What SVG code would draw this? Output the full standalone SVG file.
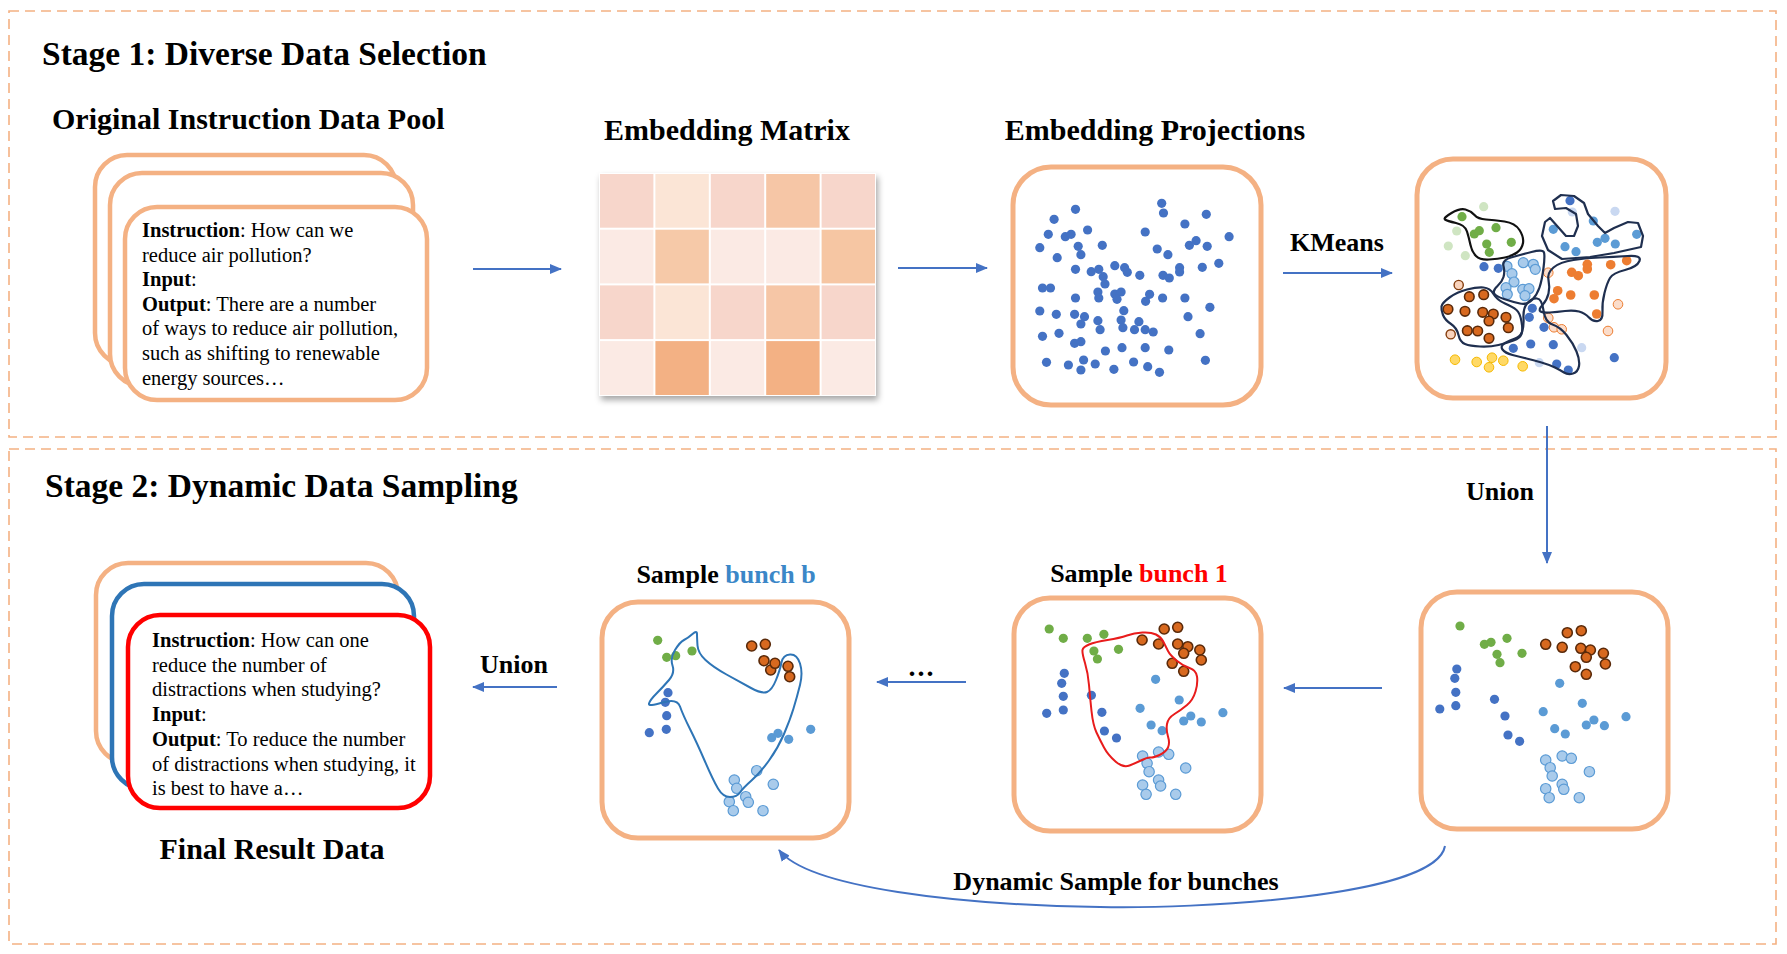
<svg xmlns="http://www.w3.org/2000/svg" width="1787" height="954" viewBox="0 0 1787 954">
<style>
.frame{fill:none;stroke:#F4B183;stroke-width:1.6;stroke-dasharray:10 6}
.card{fill:#fff;stroke:#F4B183;stroke-width:4.5}
.box{fill:#fff;stroke:#F4B183;stroke-width:5}
.t{font-family:"Liberation Serif","Times New Roman",serif;font-weight:bold;fill:#000}
.h1{font-size:33.5px}
.h2{font-size:30px}
.lbl{font-size:26px}
.body{font-family:"Liberation Serif","Times New Roman",serif;font-size:20.5px;fill:#000}
.b{font-weight:bold}
.arr{fill:none;stroke:#4472C4;stroke-width:2;marker-end:url(#ah)}
.db{fill:#4472C4}
.mb{fill:#5B9BD5}
.lb{fill:#A9CBEB;stroke:#5B9BD5;stroke-width:1.2}
.gr{fill:#70AD47}
.fg{fill:#CFE5C2}
.do{fill:#D8691F;stroke:#5A2A0A;stroke-width:1.6}
.fdo{fill:#F9D3BC;stroke:#843C0C;stroke-width:1.4}
.or{fill:#ED7D31}
.fo{fill:#FBDDCB;stroke:#ED7D31;stroke-width:1}
.fb{fill:#C9D8F1}
.ye{fill:#FFD966;stroke:#F5B800;stroke-width:1}
.cl{fill:none;stroke:#1F2F4F;stroke-width:2.2;stroke-linejoin:round}
</style>
<defs>
<marker id="ah" markerUnits="userSpaceOnUse" markerWidth="12" markerHeight="10" refX="11" refY="5" orient="auto">
<path d="M0,0 L12,5 L0,10 z" fill="#4472C4"/>
</marker>
<filter id="sh" x="-10%" y="-10%" width="125%" height="125%">
<feDropShadow dx="2" dy="4" stdDeviation="3" flood-color="#000" flood-opacity="0.35"/>
</filter>
</defs>
<rect width="1787" height="954" fill="#fff"/>

<g id="stage1">
<rect class="frame" x="9" y="11" width="1767" height="426"/>
<text class="t h1" x="42" y="65">Stage 1: Diverse Data Selection</text>
</g>
<g id="stage2">
<rect class="frame" x="9" y="449" width="1767" height="495"/>
<text class="t h1" x="45" y="497">Stage 2: Dynamic Data Sampling</text>
</g>

<g id="data-pool">
<text class="t h2" x="52" y="129">Original Instruction Data Pool</text>
<rect class="card" x="95" y="155" width="301" height="210" rx="32"/>
<rect class="card" x="110" y="173" width="303" height="213" rx="32"/>
<rect class="card" x="125" y="207" width="302" height="193" rx="32"/>
<text class="body" x="142" y="237"><tspan class="b">Instruction</tspan>: How can we</text>
<text class="body" x="142" y="261.6">reduce air pollution?</text>
<text class="body" x="142" y="286.2"><tspan class="b">Input</tspan>:</text>
<text class="body" x="142" y="310.8"><tspan class="b">Output</tspan>: There are a number</text>
<text class="body" x="142" y="335.4">of ways to reduce air pollution,</text>
<text class="body" x="142" y="360">such as shifting to renewable</text>
<text class="body" x="142" y="384.6">energy sources…</text>
</g>

<g id="embedding-matrix">
<text class="t h2" x="727" y="140" text-anchor="middle">Embedding Matrix</text>
<rect x="599" y="173" width="277" height="223" fill="#fff" filter="url(#sh)"/>
<g>
<rect x="600" y="174" width="53.4" height="53.7" fill="#F7D6CB"/>
<rect x="655.4" y="174" width="53.4" height="53.7" fill="#FBE5D6"/>
<rect x="710.8" y="174" width="53.4" height="53.7" fill="#F7D6CB"/>
<rect x="766.2" y="174" width="53.4" height="53.7" fill="#F6C6A6"/>
<rect x="821.6" y="174" width="53.4" height="53.7" fill="#F7D6CB"/>
<rect x="600" y="229.7" width="53.4" height="53.7" fill="#FBEAE4"/>
<rect x="655.4" y="229.7" width="53.4" height="53.7" fill="#F6C9A8"/>
<rect x="710.8" y="229.7" width="53.4" height="53.7" fill="#FBEAE4"/>
<rect x="766.2" y="229.7" width="53.4" height="53.7" fill="#FBEAE4"/>
<rect x="821.6" y="229.7" width="53.4" height="53.7" fill="#F6C6A3"/>
<rect x="600" y="285.4" width="53.4" height="53.7" fill="#F7D6CB"/>
<rect x="655.4" y="285.4" width="53.4" height="53.7" fill="#FBE5D6"/>
<rect x="710.8" y="285.4" width="53.4" height="53.7" fill="#F7D6CB"/>
<rect x="766.2" y="285.4" width="53.4" height="53.7" fill="#F6C6A6"/>
<rect x="821.6" y="285.4" width="53.4" height="53.7" fill="#F7D6CB"/>
<rect x="600" y="341.1" width="53.4" height="53.9" fill="#FBEAE4"/>
<rect x="655.4" y="341.1" width="53.4" height="53.9" fill="#F3B184"/>
<rect x="710.8" y="341.1" width="53.4" height="53.9" fill="#FBEAE4"/>
<rect x="766.2" y="341.1" width="53.4" height="53.9" fill="#F3B184"/>
<rect x="821.6" y="341.1" width="53.4" height="53.9" fill="#FBEAE4"/>
</g>
</g>

<g id="embedding-projections">
<text class="t h2" x="1155" y="140" text-anchor="middle">Embedding Projections</text>
<rect class="box" x="1013" y="167" width="248" height="238" rx="38"/>
<g class="db">
<circle cx="1075.5" cy="209.3" r="4.6"/><circle cx="1054.1" cy="219.3" r="4.6"/><circle cx="1161.7" cy="203.3" r="4.6"/><circle cx="1163.5" cy="213" r="4.6"/><circle cx="1206.3" cy="214.3" r="4.6"/><circle cx="1184.9" cy="224" r="4.6"/><circle cx="1048.3" cy="234.3" r="4.6"/><circle cx="1065.3" cy="236.7" r="4.6"/><circle cx="1071.1" cy="234.3" r="4.6"/><circle cx="1087.6" cy="230" r="4.6"/><circle cx="1145.2" cy="232" r="4.6"/><circle cx="1229.1" cy="236.7" r="4.6"/><circle cx="1039.8" cy="247.7" r="4.6"/><circle cx="1078.2" cy="246.3" r="4.6"/><circle cx="1102.3" cy="245.3" r="4.6"/><circle cx="1080.9" cy="254.7" r="4.6"/><circle cx="1157.2" cy="249" r="4.6"/><circle cx="1167.9" cy="254.7" r="4.6"/><circle cx="1189.4" cy="245.3" r="4.6"/><circle cx="1196.1" cy="240.7" r="4.6"/><circle cx="1207.2" cy="246.3" r="4.6"/><circle cx="1057.2" cy="257.7" r="4.6"/><circle cx="1075.5" cy="269.3" r="4.6"/><circle cx="1091.2" cy="271.7" r="4.6"/><circle cx="1098.8" cy="269.3" r="4.6"/><circle cx="1114.8" cy="265.7" r="4.6"/><circle cx="1124.6" cy="267.7" r="4.6"/><circle cx="1127.3" cy="272.3" r="4.6"/><circle cx="1103.2" cy="276.7" r="4.6"/><circle cx="1105" cy="284" r="4.6"/><circle cx="1139.8" cy="275.3" r="4.6"/><circle cx="1163" cy="275.3" r="4.6"/><circle cx="1169.3" cy="278" r="4.6"/><circle cx="1179.6" cy="267.7" r="4.6"/><circle cx="1179.6" cy="272" r="4.6"/><circle cx="1202.3" cy="267.3" r="4.6"/><circle cx="1218.8" cy="263.3" r="4.6"/><circle cx="1042.5" cy="288" r="4.6"/><circle cx="1050.5" cy="288" r="4.6"/><circle cx="1075.5" cy="298" r="4.6"/><circle cx="1097.9" cy="292" r="4.6"/><circle cx="1098.8" cy="298" r="4.6"/><circle cx="1114.8" cy="294" r="4.6"/><circle cx="1121.1" cy="292" r="4.6"/><circle cx="1117" cy="299.3" r="4.6"/><circle cx="1149.6" cy="294.3" r="4.6"/><circle cx="1145.6" cy="301.3" r="4.6"/><circle cx="1162.6" cy="298" r="4.6"/><circle cx="1184.9" cy="298" r="4.6"/><circle cx="1209.9" cy="307.3" r="4.6"/><circle cx="1039.8" cy="311" r="4.6"/><circle cx="1056.3" cy="314.3" r="4.6"/><circle cx="1074.6" cy="314.3" r="4.6"/><circle cx="1084.5" cy="316.7" r="4.6"/><circle cx="1080.9" cy="324" r="4.6"/><circle cx="1097.9" cy="320.7" r="4.6"/><circle cx="1123.8" cy="310.7" r="4.6"/><circle cx="1121.1" cy="320" r="4.6"/><circle cx="1122.9" cy="327.7" r="4.6"/><circle cx="1138.9" cy="321.7" r="4.6"/><circle cx="1134.5" cy="329.7" r="4.6"/><circle cx="1145.2" cy="329.7" r="4.6"/><circle cx="1153.2" cy="332" r="4.6"/><circle cx="1100.1" cy="329.7" r="4.6"/><circle cx="1188" cy="316.7" r="4.6"/><circle cx="1042.5" cy="336.3" r="4.6"/><circle cx="1059" cy="333.3" r="4.6"/><circle cx="1074.6" cy="343.3" r="4.6"/><circle cx="1080.9" cy="341.7" r="4.6"/><circle cx="1105.4" cy="351" r="4.6"/><circle cx="1122" cy="347.7" r="4.6"/><circle cx="1145.2" cy="347.7" r="4.6"/><circle cx="1168.8" cy="350" r="4.6"/><circle cx="1200.1" cy="333.7" r="4.6"/><circle cx="1046.5" cy="362.3" r="4.6"/><circle cx="1068.4" cy="365" r="4.6"/><circle cx="1083.6" cy="360" r="4.6"/><circle cx="1080.9" cy="370" r="4.6"/><circle cx="1095.2" cy="364" r="4.6"/><circle cx="1113.9" cy="369.3" r="4.6"/><circle cx="1133.6" cy="362" r="4.6"/><circle cx="1147.7" cy="366.7" r="4.6"/><circle cx="1159.5" cy="372.3" r="4.6"/><circle cx="1205.4" cy="360.3" r="4.6"/>
</g>
</g>

<g id="kmeans-clusters">
<rect class="box" x="1417" y="159" width="249" height="239" rx="36"/>
<g class="fg"><circle cx="1483.7" cy="206.7" r="4.6"/><circle cx="1456.7" cy="231" r="4.6"/><circle cx="1448.3" cy="246" r="4.6"/><circle cx="1465.3" cy="255.7" r="4.6"/></g>
<g class="gr"><circle cx="1462" cy="216.7" r="4.6"/><circle cx="1474.3" cy="234" r="4.6"/><circle cx="1479.3" cy="230.7" r="4.6"/><circle cx="1496" cy="227.7" r="4.6"/><circle cx="1486.7" cy="244" r="4.6"/><circle cx="1489.3" cy="252.3" r="4.6"/><circle cx="1511.3" cy="242.3" r="4.6"/></g>
<g class="fb"><circle cx="1572.3" cy="212" r="4.6"/><circle cx="1615" cy="211.3" r="4.6"/><circle cx="1581.7" cy="347.7" r="4.6"/><circle cx="1539.3" cy="362.7" r="4.6"/></g>
<g class="db"><circle cx="1570" cy="200.7" r="4.6"/><circle cx="1484" cy="266.7" r="4.6"/><circle cx="1498.3" cy="268.3" r="4.6"/><circle cx="1532.3" cy="308.3" r="4.6"/><circle cx="1529.3" cy="317.3" r="4.6"/><circle cx="1544" cy="327.3" r="4.6"/><circle cx="1530.7" cy="344" r="4.6"/><circle cx="1513.3" cy="348.3" r="4.6"/><circle cx="1553.3" cy="344.7" r="4.6"/><circle cx="1556.7" cy="364" r="4.6"/><circle cx="1568.3" cy="370" r="4.6"/><circle cx="1614.3" cy="357.7" r="4.6"/></g>
<g class="mb"><circle cx="1553.3" cy="229.3" r="4.6"/><circle cx="1593.3" cy="221" r="4.6"/><circle cx="1565" cy="246.7" r="4.6"/><circle cx="1576" cy="251.7" r="4.6"/><circle cx="1597.3" cy="242.3" r="4.6"/><circle cx="1605" cy="238.3" r="4.6"/><circle cx="1615.3" cy="244" r="4.6"/><circle cx="1636.7" cy="234.3" r="4.6"/></g>
<g class="lb"><circle cx="1507" cy="266.3" r="5"/><circle cx="1523.3" cy="262.7" r="5"/><circle cx="1533.3" cy="264.3" r="5"/><circle cx="1535.3" cy="269.3" r="5"/><circle cx="1512" cy="273.7" r="5"/><circle cx="1514" cy="282" r="5"/><circle cx="1506" cy="287.7" r="5"/><circle cx="1507.3" cy="294.3" r="5"/><circle cx="1522.7" cy="289.3" r="5"/><circle cx="1529" cy="288.7" r="5"/><circle cx="1525" cy="295.7" r="5"/></g>
<g class="fo"><circle cx="1548.3" cy="272.7" r="4.8"/><circle cx="1618" cy="304.3" r="4.8"/><circle cx="1548.3" cy="318" r="4.8"/><circle cx="1554" cy="327.3" r="4.8"/><circle cx="1561.7" cy="329.3" r="4.8"/><circle cx="1608" cy="331" r="4.8"/></g>
<g class="or"><circle cx="1571.7" cy="272.3" r="4.8"/><circle cx="1578.3" cy="275.7" r="4.8"/><circle cx="1587.3" cy="264.3" r="4.8"/><circle cx="1587.3" cy="269" r="4.8"/><circle cx="1610.7" cy="264.7" r="4.8"/><circle cx="1626.7" cy="260.7" r="4.8"/><circle cx="1557.7" cy="290.7" r="4.8"/><circle cx="1554" cy="298.7" r="4.8"/><circle cx="1570.7" cy="295" r="4.8"/><circle cx="1594.3" cy="295" r="4.8"/><circle cx="1596.7" cy="314" r="4.8"/></g>
<g class="fdo"><circle cx="1458.7" cy="285" r="4.6"/><circle cx="1450.7" cy="334.3" r="4.6"/></g>
<g class="do"><circle cx="1469.3" cy="296.7" r="4.8"/><circle cx="1483.7" cy="294.7" r="4.8"/><circle cx="1448" cy="309.3" r="4.8"/><circle cx="1465" cy="311.3" r="4.8"/><circle cx="1482.7" cy="312.3" r="4.8"/><circle cx="1493.3" cy="314" r="4.8"/><circle cx="1506" cy="317.3" r="4.8"/><circle cx="1489" cy="321" r="4.8"/><circle cx="1508.3" cy="327.7" r="4.8"/><circle cx="1467.3" cy="330.7" r="4.8"/><circle cx="1477.7" cy="331" r="4.8"/><circle cx="1489" cy="338.3" r="4.8"/></g>
<g class="ye"><circle cx="1455" cy="359.7" r="4.8"/><circle cx="1476.7" cy="362" r="4.8"/><circle cx="1492" cy="357.7" r="4.8"/><circle cx="1489" cy="367.3" r="4.8"/><circle cx="1503.3" cy="360.7" r="4.8"/><circle cx="1522.7" cy="366.3" r="4.8"/></g>
<path class="cl" style="stroke:#111" d="M1445,219.5 Q1443,218 1451.5,213 Q1460,208 1465.5,209.5 Q1471,211 1474.5,215 Q1478,219 1486,219.5 Q1494,220 1504.5,221.5 Q1515,223 1519.5,230 Q1524,237 1523,243 Q1522,249 1517,252.5 Q1512,256 1505,257.5 Q1498,259 1489,259.5 Q1480,260 1476,256 Q1472,252 1470.5,245 Q1469,238 1467,231.5 Q1465,225 1456,223 Q1447,221 1445,219.5 Z"/>
<path class="cl" d="M1503.5,266 Q1502,260 1511,257.5 Q1520,255 1531.5,252 Q1543,249 1544,252.5 Q1545,256 1543.5,268 Q1542,280 1539.5,287.5 Q1537,295 1532,300 Q1527,305 1520,303.5 Q1513,302 1504,299 Q1495,296 1494,293 Q1493,290 1497.5,286 Q1502,282 1503.5,277 Q1505,272 1503.5,266 Z"/>
<path class="cl" d="M1441.5,306.5 Q1442,303 1449.5,297.5 Q1457,292 1467,289.5 Q1477,287 1483.5,287.5 Q1490,288 1493.5,294 Q1497,300 1505,303.5 Q1513,307 1516.5,310 Q1520,313 1521.5,321.5 Q1523,330 1521.5,334 Q1520,338 1513.5,340.5 Q1507,343 1498.5,345 Q1490,347 1480,346.5 Q1470,346 1465,344 Q1460,342 1458.5,335 Q1457,328 1451,324 Q1445,320 1443,315 Q1441,310 1441.5,306.5 Z"/>
<path class="cl" d="M1523.5,317.5 Q1523,308 1527.5,303 Q1532,298 1537,298.5 Q1542,299 1543.5,310.5 Q1545,322 1552.5,324.5 Q1560,327 1566.5,335 Q1573,343 1576.5,351.5 Q1580,360 1579,366 Q1578,372 1573,373.5 Q1568,375 1564,372.5 Q1560,370 1555,367.5 Q1550,365 1541.5,362.5 Q1533,360 1526.5,358.5 Q1520,357 1512.5,355 Q1505,353 1502.5,349.5 Q1500,346 1505,343 Q1510,340 1515,338.5 Q1520,337 1522,332 Q1524,327 1523.5,317.5 Z"/>
<path class="cl" d="M1548.5,280 Q1547,273 1553.5,267.5 Q1560,262 1573.5,260 Q1587,258 1600,257.5 Q1613,257 1627.5,256 Q1642,255 1639.5,261 Q1637,267 1625,270 Q1613,273 1610,278 Q1607,283 1604.5,293 Q1602,303 1602.5,311.5 Q1603,320 1598,321 Q1593,322 1589,317.5 Q1585,313 1579,311.5 Q1573,310 1565,311 Q1557,312 1550,312.5 Q1543,313 1540.5,311.5 Q1538,310 1542.5,305 Q1547,300 1548.5,293.5 Q1550,287 1548.5,280 Z"/>
<path class="cl" d="M1605,233 L1598,226 L1588,214 L1584,203 L1574,196 L1561,195 L1553,201 L1555,209 L1566,208 L1576,214 L1578,226 L1574,236 L1566,236 L1558,227 L1550,218 L1545,222 L1542,236 L1548,250 L1562,259 L1590,257 L1614,253 L1641,247 L1643,236 L1638,223 L1628,222 L1614,228 Z"/>
</g>

<g id="union-set">
<rect class="box" x="1421" y="592" width="247" height="237" rx="36"/>
<g class="gr"><circle cx="1460" cy="626" r="4.6"/><circle cx="1484.4" cy="644.3" r="4.6"/><circle cx="1491" cy="642.3" r="4.6"/><circle cx="1507" cy="638.3" r="4.6"/><circle cx="1497" cy="654.3" r="4.6"/><circle cx="1500" cy="662.7" r="4.6"/><circle cx="1522" cy="653.3" r="4.6"/></g>
<g class="do"><circle cx="1567.3" cy="632.7" r="5"/><circle cx="1581.3" cy="630.7" r="5"/><circle cx="1545.7" cy="644.3" r="5"/><circle cx="1562.2" cy="647.3" r="5"/><circle cx="1580.8" cy="648.3" r="5"/><circle cx="1590.4" cy="650" r="5"/><circle cx="1586.3" cy="657.3" r="5"/><circle cx="1603.4" cy="653.3" r="5"/><circle cx="1605.4" cy="664" r="5"/><circle cx="1575.3" cy="666.7" r="5"/><circle cx="1586.3" cy="674.3" r="5"/></g>
<g class="db"><circle cx="1456.8" cy="669" r="4.6"/><circle cx="1454.8" cy="678.3" r="4.6"/><circle cx="1455.8" cy="692.3" r="4.6"/><circle cx="1455.8" cy="705.7" r="4.6"/><circle cx="1439.8" cy="709" r="4.6"/><circle cx="1494.5" cy="699.3" r="4.6"/><circle cx="1505" cy="716" r="4.6"/><circle cx="1508" cy="735" r="4.6"/><circle cx="1519.6" cy="741.3" r="4.6"/></g>
<g class="mb"><circle cx="1559.7" cy="683.3" r="4.6"/><circle cx="1582.3" cy="703.3" r="4.6"/><circle cx="1543.2" cy="711.7" r="4.6"/><circle cx="1554.7" cy="728.7" r="4.6"/><circle cx="1565.3" cy="734" r="4.6"/><circle cx="1586.3" cy="725" r="4.6"/><circle cx="1593.9" cy="720" r="4.6"/><circle cx="1604.4" cy="725.7" r="4.6"/><circle cx="1626" cy="716.7" r="4.6"/></g>
<g class="lb"><circle cx="1562.2" cy="756" r="5.2"/><circle cx="1571.3" cy="758.3" r="5.2"/><circle cx="1545.7" cy="760" r="5.2"/><circle cx="1550.2" cy="767.7" r="5.2"/><circle cx="1552.2" cy="776" r="5.2"/><circle cx="1589.4" cy="771.7" r="5.2"/><circle cx="1562.2" cy="784.3" r="5.2"/><circle cx="1545.7" cy="788.7" r="5.2"/><circle cx="1563.8" cy="789.3" r="5.2"/><circle cx="1549.2" cy="797.7" r="5.2"/><circle cx="1579.3" cy="797.7" r="5.2"/></g>
</g>

<g id="bunch-1">
<text class="t lbl" x="1139" y="582" text-anchor="middle">Sample <tspan fill="#FF0000">bunch 1</tspan></text>
<rect class="box" x="1014" y="598" width="247" height="233" rx="36"/>
<g class="gr"><circle cx="1049.2" cy="629" r="4.6"/><circle cx="1063.3" cy="638.3" r="4.6"/><circle cx="1087.3" cy="638.3" r="4.6"/><circle cx="1103.9" cy="634.3" r="4.6"/><circle cx="1093.9" cy="651" r="4.6"/><circle cx="1097.4" cy="659" r="4.6"/><circle cx="1118.5" cy="649.3" r="4.6"/></g>
<g class="do"><circle cx="1164.2" cy="629" r="5"/><circle cx="1177.7" cy="627.3" r="5"/><circle cx="1142.1" cy="640" r="5"/><circle cx="1158.6" cy="644" r="5"/><circle cx="1177.7" cy="644" r="5"/><circle cx="1187.8" cy="646.7" r="5"/><circle cx="1183.7" cy="653.3" r="5"/><circle cx="1199.8" cy="650" r="5"/><circle cx="1201.3" cy="660" r="5"/><circle cx="1172.2" cy="663.3" r="5"/><circle cx="1183.7" cy="671.3" r="5"/></g>
<g class="db"><circle cx="1064.3" cy="673.3" r="4.6"/><circle cx="1061.7" cy="683.3" r="4.6"/><circle cx="1063.3" cy="696.3" r="4.6"/><circle cx="1063.3" cy="710" r="4.6"/><circle cx="1046.7" cy="713.3" r="4.6"/><circle cx="1091.4" cy="695.3" r="4.6"/><circle cx="1101.9" cy="712.3" r="4.6"/><circle cx="1104.4" cy="731" r="4.6"/><circle cx="1116.5" cy="738" r="4.6"/></g>
<g class="mb"><circle cx="1155.6" cy="679.3" r="4.6"/><circle cx="1179.2" cy="700" r="4.6"/><circle cx="1140.1" cy="708.3" r="4.6"/><circle cx="1151.1" cy="725" r="4.6"/><circle cx="1162.1" cy="730.7" r="4.6"/><circle cx="1183.7" cy="721" r="4.6"/><circle cx="1190.8" cy="716" r="4.6"/><circle cx="1201.3" cy="722" r="4.6"/><circle cx="1222.9" cy="712.7" r="4.6"/></g>
<g class="lb"><circle cx="1158.6" cy="752" r="5.2"/><circle cx="1168.7" cy="754.3" r="5.2"/><circle cx="1142.6" cy="756" r="5.2"/><circle cx="1147.1" cy="763.3" r="5.2"/><circle cx="1149.1" cy="771.7" r="5.2"/><circle cx="1185.7" cy="768" r="5.2"/><circle cx="1158.6" cy="780" r="5.2"/><circle cx="1142.6" cy="785" r="5.2"/><circle cx="1160.6" cy="786" r="5.2"/><circle cx="1146.1" cy="794.3" r="5.2"/><circle cx="1175.7" cy="794.3" r="5.2"/></g>
<path fill="none" stroke="#E81C1C" stroke-width="2" d="M1082.5,650 Q1083,647 1089,644.5 Q1095,642 1107.5,640 Q1120,638 1127,635.5 Q1134,633 1142.5,632.5 Q1151,632 1156,634.5 Q1161,637 1163.5,642 Q1166,647 1168,651 Q1170,655 1176.5,660.5 Q1183,666 1189.5,668 Q1196,670 1197,676.5 Q1198,683 1195.5,691.5 Q1193,700 1187,705 Q1181,710 1174.5,714 Q1168,718 1167,724 Q1166,730 1168,736.5 Q1170,743 1168,747.5 Q1166,752 1159.5,755 Q1153,758 1150.5,757.5 Q1148,757 1142,760 Q1136,763 1129.5,765.5 Q1123,768 1115.5,761.5 Q1108,755 1104,747.5 Q1100,740 1096.5,732.5 Q1093,725 1091.5,711 Q1090,697 1089,685 Q1088,673 1085,663 Q1082,653 1082.5,650 Z"/>
</g>

<g id="bunch-b">
<text class="t lbl" x="726" y="583" text-anchor="middle">Sample <tspan fill="#3B87C8">bunch b</tspan></text>
<rect class="box" x="602" y="602" width="247" height="236" rx="36"/>
<g class="gr"><circle cx="657.7" cy="640.3" r="4.6"/><circle cx="666.7" cy="657.3" r="4.6"/><circle cx="675.7" cy="655.7" r="4.6"/><circle cx="692" cy="651" r="4.6"/></g>
<g class="do"><circle cx="751.7" cy="646" r="5"/><circle cx="765.3" cy="644.3" r="5"/><circle cx="764" cy="660.7" r="5"/><circle cx="770.7" cy="670" r="5"/><circle cx="775" cy="663.3" r="5"/><circle cx="788" cy="666.3" r="5"/><circle cx="789.7" cy="676.7" r="5"/></g>
<g class="db"><circle cx="668" cy="692.7" r="4.6"/><circle cx="665.3" cy="702.3" r="4.6"/><circle cx="666.7" cy="715.7" r="4.6"/><circle cx="666.3" cy="729.3" r="4.6"/><circle cx="649.3" cy="732.7" r="4.6"/></g>
<g class="mb"><circle cx="771.7" cy="737.7" r="4.6"/><circle cx="778" cy="733.3" r="4.6"/><circle cx="788.7" cy="739.3" r="4.6"/><circle cx="810.7" cy="729.3" r="4.6"/></g>
<g class="lb"><circle cx="756.7" cy="770.7" r="5.2"/><circle cx="734.3" cy="780" r="5.2"/><circle cx="736.7" cy="788.3" r="5.2"/><circle cx="773.3" cy="784.3" r="5.2"/><circle cx="729.3" cy="801.7" r="5.2"/><circle cx="745.7" cy="796.7" r="5.2"/><circle cx="748.3" cy="802.3" r="5.2"/><circle cx="733.3" cy="810.7" r="5.2"/><circle cx="763" cy="810.7" r="5.2"/></g>
<path fill="none" stroke="#2E75B6" stroke-width="2" d="M680,706.5 Q677,698 662.5,702.5 Q648,707 649,703.5 Q650,700 656.5,693.5 Q663,687 669,680 Q675,673 672.5,665.5 Q670,658 675,650 Q680,642 684,640 Q688,638 692.5,634 Q697,630 697,634 Q697,638 697.5,645.5 Q698,653 705.5,660 Q713,667 726.5,674.5 Q740,682 751,688 Q762,694 767,692 Q772,690 776,680 Q780,670 781.5,662.5 Q783,655 790,654.5 Q797,654 800,663.5 Q803,673 800,685 Q797,697 793.5,708.5 Q790,720 784,734 Q778,748 769,760.5 Q760,773 751.5,780.5 Q743,788 740,792.5 Q737,797 730,797 Q723,797 718,788.5 Q713,780 705,761.5 Q697,743 690,729 Q683,715 680,706.5 Z"/>
</g>

<g id="final-result">
<rect class="card" x="96" y="563" width="302" height="200" rx="32"/>
<rect class="card" x="112" y="584" width="302" height="205" rx="32" style="stroke:#2E75B6"/>
<rect class="card" x="128" y="615" width="302" height="193" rx="32" style="stroke:#FF0000"/>
<text class="body" x="152" y="647"><tspan class="b">Instruction</tspan>: How can one</text>
<text class="body" x="152" y="671.7">reduce the number of</text>
<text class="body" x="152" y="696.4">distractions when studying?</text>
<text class="body" x="152" y="721.1"><tspan class="b">Input</tspan>:</text>
<text class="body" x="152" y="745.8"><tspan class="b">Output</tspan>: To reduce the number</text>
<text class="body" x="152" y="770.5">of distractions when studying, it</text>
<text class="body" x="152" y="795.2">is best to have a…</text>
<text class="t h2" x="272" y="859" text-anchor="middle">Final Result Data</text>
</g>

<g id="connectors">
<path class="arr" d="M473,269 H561"/>
<path class="arr" d="M898,268 H987"/>
<path class="arr" d="M1283,273 H1392"/>
<text class="t lbl" x="1337" y="251" text-anchor="middle">KMeans</text>
<path class="arr" d="M1547,426 V563"/>
<text class="t lbl" x="1534" y="500" text-anchor="end">Union</text>
<path class="arr" d="M1382,688 H1284"/>
<path class="arr" d="M966,682 H877"/>
<text class="t" style="font-size:28px;letter-spacing:2px" x="922" y="676" text-anchor="middle">...</text>
<path class="arr" d="M557,687 H473"/>
<text class="t lbl" x="514" y="673" text-anchor="middle">Union</text>
<path class="arr" d="M1445,846 C1436,898 1190,909 1100,907 C960,905 808,888 779,850"/>
<text class="t lbl" x="1116" y="890" text-anchor="middle">Dynamic Sample for bunches</text>
</g>
</svg>
